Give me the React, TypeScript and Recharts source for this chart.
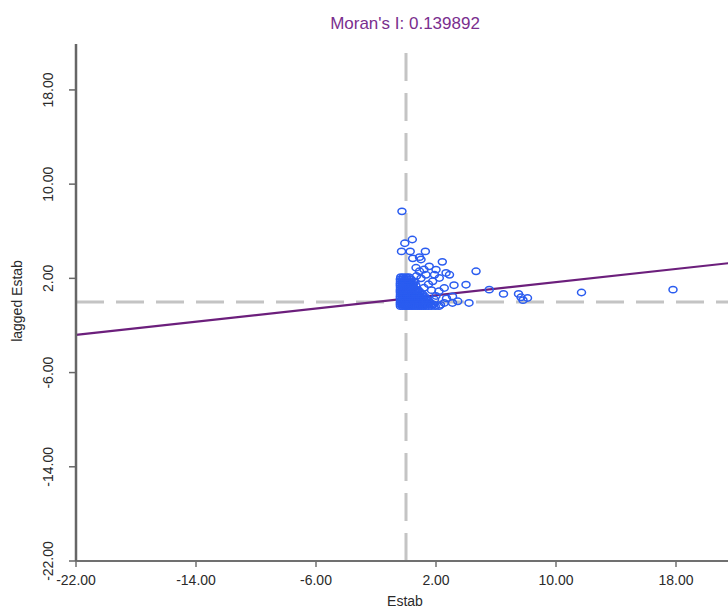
import { ScatterChart, Scatter, XAxis, YAxis, ReferenceLine } from 'recharts';

// Moran scatter: Estab vs spatially lagged Estab
const moransI = 0.139892;
const lineIntercept = 0.28;

const xTicks = [-22, -14, -6, 2, 10, 18];
const yTicks = [-22, -14, -6, 2, 10, 18];

// dense core around the origin, one row per lagged value
const coreRows = [
  { y: 2.1, xs: [-0.35, -0.18, 0.02, 0.2] },
  { y: 1.92, xs: [-0.38, -0.24, -0.1, 0.05, 0.2, 0.34] },
  { y: 1.74, xs: [-0.37, -0.23, -0.09, 0.06, 0.2, 0.33, 0.5] },
  { y: 1.56, xs: [-0.38, -0.24, -0.1, 0.04, 0.18, 0.32, 0.46] },
  { y: 1.38, xs: [-0.38, -0.24, -0.1, 0.04, 0.18, 0.32, 0.48, 0.66] },
  { y: 1.2, xs: [-0.37, -0.23, -0.09, 0.05, 0.19, 0.33, 0.5] },
  { y: 1.02, xs: [-0.38, -0.24, -0.1, 0.04, 0.18, 0.32, 0.46, 0.62, 0.8] },
  { y: 0.84, xs: [-0.38, -0.24, -0.1, 0.04, 0.18, 0.32, 0.46, 0.6, 0.76, 0.94] },
  { y: 0.66, xs: [-0.37, -0.23, -0.09, 0.05, 0.19, 0.33, 0.47, 0.61, 0.76, 0.92, 1.1] },
  { y: 0.48, xs: [-0.38, -0.24, -0.1, 0.04, 0.18, 0.32, 0.46, 0.6, 0.74, 0.9, 1.06, 1.24] },
  { y: 0.3, xs: [-0.38, -0.24, -0.1, 0.04, 0.18, 0.32, 0.46, 0.6, 0.74, 0.88, 1.02, 1.18, 1.36] },
  { y: 0.12, xs: [-0.37, -0.23, -0.09, 0.05, 0.19, 0.33, 0.47, 0.61, 0.75, 0.89, 1.03, 1.18, 1.34, 1.5] },
  { y: -0.06, xs: [-0.38, -0.24, -0.1, 0.04, 0.18, 0.32, 0.46, 0.6, 0.74, 0.88, 1.02, 1.16, 1.3, 1.45, 1.62] },
  { y: -0.22, xs: [-0.38, -0.24, -0.1, 0.04, 0.18, 0.32, 0.46, 0.6, 0.74, 0.88, 1.02, 1.16, 1.3, 1.46, 1.64, 1.85] },
  { y: -0.36, xs: [-0.37, -0.23, -0.09, 0.05, 0.19, 0.33, 0.47, 0.61, 0.75, 0.89, 1.03, 1.17, 1.32, 1.5, 1.7, 1.95, 2.2] },
];

// scattered points outside the core
const spreadPoints: [number, number][] = [
  [-0.27, 7.69], [0.42, 5.3], [-0.08, 4.98], [-0.3, 4.29], [0.28, 4.29], [1.29, 4.29],
  [0.9, 3.8], [1.0, 3.6], [0.45, 3.7], [2.42, 3.4], [1.55, 3.02], [2.0, 2.74],
  [0.67, 2.9], [1.2, 2.75], [2.67, 2.46], [2.22, 2.03], [1.33, 2.3], [0.9, 2.6],
  [1.78, 1.75], [4.67, 2.6], [3.2, 1.42], [4.0, 1.46], [2.55, 1.18], [2.2, 0.9],
  [3.1, 0.47], [2.55, -0.09], [3.1, -0.09], [4.2, -0.09], [3.45, 0.05], [0.7, 2.2],
  [1.0, 2.0], [1.5, 1.5], [1.2, 1.2], [1.9, 2.3], [0.6, 1.7], [2.9, 2.3], [1.7, 1.0],
  [2.0, 0.5], [1.9, 0.2], [2.3, -0.25], [2.7, 0.3],
  [5.55, 1.04], [6.5, 0.68], [7.5, 0.68], [7.67, 0.39], [8.1, 0.33], [7.8, 0.15],
  [11.7, 0.8], [17.8, 1.04],
];

const points = [
  ...coreRows.flatMap((r) => r.xs.map((x) => ({ x, y: r.y }))),
  ...spreadPoints.map(([x, y]) => ({ x, y })),
];

const Ring = (props: any) => (
  <ellipse cx={props.cx} cy={props.cy} rx={4} ry={3.2} fill="none" stroke="#2a5cf0" strokeWidth={1.5} />
);

const YTick = (props: any) => {
  const { y, payload } = props;
  return (
    <text
      x={48}
      y={y}
      transform={`rotate(-90, 48, ${y})`}
      textAnchor="middle"
      dominantBaseline="central"
      fontSize={14}
      fill="#2a2a2a"
      fontFamily="Liberation Sans, Arial, sans-serif"
    >
      {payload.value.toFixed(2)}
    </text>
  );
};

export default function App() {
  const fit = [
    { x: -22, y: -22 * moransI + lineIntercept },
    { x: 22, y: 22 * moransI + lineIntercept },
  ];
  return (
    <div
      style={{
        position: 'absolute',
        left: 0,
        top: 0,
        width: 728,
        height: 608,
        overflow: 'hidden',
        background: '#fff',
        fontFamily: 'Liberation Sans, Arial, sans-serif',
      }}
    >
      <ScatterChart width={736} height={608} margin={{ top: 44, right: 0, bottom: 0, left: 0 }}>
        <XAxis
          type="number"
          dataKey="x"
          domain={[-22, 22]}
          ticks={xTicks}
          allowDataOverflow
          height={47}
          tickFormatter={(v: number) => v.toFixed(2)}
          axisLine={{ stroke: '#707070', strokeWidth: 2 }}
          tickLine={{ stroke: '#707070', strokeWidth: 1.5 }}
          tickSize={6}
          tickMargin={8}
          tick={{ fontSize: 14, fill: '#2a2a2a' }}
        />
        <YAxis
          type="number"
          dataKey="y"
          domain={[-22, 21.9]}
          ticks={yTicks}
          allowDataOverflow
          width={76}
          axisLine={{ stroke: '#666', strokeWidth: 2.5 }}
          tickLine={{ stroke: '#666', strokeWidth: 1.5 }}
          tickSize={7}
          tick={<YTick />}
        />
        <Scatter data={points} shape={<Ring />} isAnimationActive={false} />
        <ReferenceLine x={0} stroke="#c4c4c4" strokeWidth={3} strokeDasharray="28 12" />
        <ReferenceLine y={0} stroke="#c4c4c4" strokeWidth={3} strokeDasharray="28 12" />
        <ReferenceLine segment={fit} stroke="#6c1f7c" strokeWidth={2.2} />
      </ScatterChart>
      <div
        style={{
          position: 'absolute',
          top: 14,
          left: 405,
          transform: 'translateX(-50%)',
          fontSize: 17,
          color: '#7a2e8e',
          whiteSpace: 'nowrap',
        }}
      >
        Moran's I: 0.139892
      </div>
      <div
        style={{
          position: 'absolute',
          top: 594,
          left: 405,
          transform: 'translateX(-50%)',
          fontSize: 14,
          lineHeight: '14px',
          color: '#2a2a2a',
        }}
      >
        Estab
      </div>
      <div
        style={{
          position: 'absolute',
          left: 17,
          top: 301,
          transform: 'translate(-50%, -50%) rotate(-90deg)',
          fontSize: 14,
          lineHeight: '14px',
          color: '#2a2a2a',
          whiteSpace: 'nowrap',
        }}
      >
        lagged Estab
      </div>
    </div>
  );
}
